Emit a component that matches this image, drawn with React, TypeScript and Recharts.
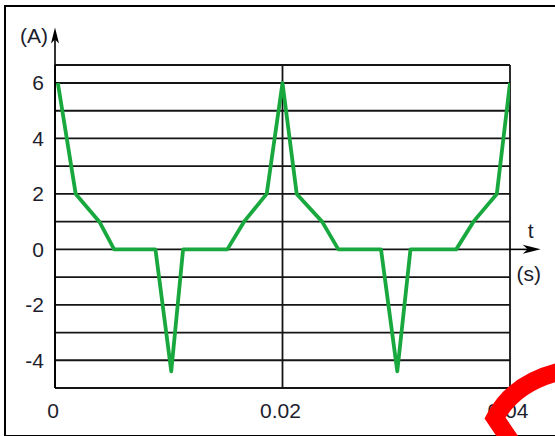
import React from 'react';
import { LineChart, Line, XAxis, YAxis, CartesianGrid, ReferenceLine } from 'recharts';

const times = [0.00025, 0.00182, 0.0039, 0.0052, 0.00883, 0.01022, 0.01126, 0.01515, 0.01662, 0.01861, 0.02,
  0.02125, 0.02348, 0.02491, 0.02866, 0.03009, 0.03125, 0.03527, 0.03679, 0.03884, 0.04];
const current = [6, 2, 1, 0, 0, -4.4, 0, 0, 1, 2, 6, 2, 1, 0, 0, -4.4, 0, 0, 1, 2, 6];
const xTicks = [0, 0.02, 0.04];
const xTickLabels = ['0', '0.02', '0.04'];
const yTicks = [-5, -4, -3, -2, -1, 0, 1, 2, 3, 4, 5, 6, 6.65];
const yDomain: [number, number] = [-5, 6.65];
const xDomain: [number, number] = [0, 0.04];
const yArrowEnd = 8;
const xArrowEnd = 0.0427;
const yUnit = '(A)';
const xName = 't';
const xUnit = '(s)';

const data = times.map((t, k) => ({ t, i: current[k] }));

const FONT = '"Liberation Sans", Arial, sans-serif';
const TXT = '#1d1d2e';

const YArrow = (p: any) => {
  const { x1, y1, x2, y2 } = p;
  return (
    <g>
      <line x1={x1} y1={y1} x2={x2} y2={y2 + 8} stroke="#000" strokeWidth={1.6} />
      <polygon points={`${x2},${y2} ${x2 - 4},${y2 + 16} ${x2},${y2 + 12} ${x2 + 4},${y2 + 16}`} fill="#000" />
      <text x={x2 - 7} y={y2 + 15} textAnchor="end" fontSize={21} fontFamily={FONT} fill={TXT}>{yUnit}</text>
    </g>
  );
};

const XArrow = (p: any) => {
  const { x1, y1, x2, y2 } = p;
  return (
    <g>
      <line x1={x1} y1={y1} x2={x2 - 8} y2={y2} stroke="#000" strokeWidth={1.6} />
      <polygon points={`${x2},${y2} ${x2 - 18},${y2 - 4.5} ${x2 - 13},${y2} ${x2 - 18},${y2 + 4.5}`} fill="#000" />
      <text x={x2 - 10} y={y2 - 11} textAnchor="middle" fontSize={21} fontFamily={FONT} fill={TXT}>{xName}</text>
      <text x={x2 - 12} y={y2 + 32} textAnchor="middle" fontSize={21} fontFamily={FONT} fill={TXT}>{xUnit}</text>
    </g>
  );
};

export default function App() {
  return (
    <div style={{ position: 'absolute', left: 0, top: 0, width: 555, height: 436, overflow: 'hidden', background: '#fff' }}>
      <div style={{ position: 'absolute', left: 4, top: 5, width: 560, height: 428, borderLeft: '2.5px solid #000', borderTop: '2.5px solid #000', borderBottom: '2.5px solid #000' }} />
      <div style={{ position: 'absolute', left: 0, top: 0 }}>
        <LineChart width={555} height={436} data={data} margin={{ top: 65, right: 45, bottom: 8, left: 15 }}>
          <CartesianGrid stroke="#151515" strokeWidth={1.8} />
          <XAxis
            dataKey="t"
            type="number"
            domain={xDomain}
            ticks={xTicks}
            allowDataOverflow
            interval={0}
            height={40}
            tickLine={false}
            tickMargin={9}
            axisLine={{ stroke: '#151515', strokeWidth: 1.8 }}
            tickFormatter={(v: number) => xTickLabels[xTicks.indexOf(v)] ?? ''}
            tick={{ fontSize: 21, fontFamily: FONT, fill: TXT, dx: -2 }}
          />
          <YAxis
            type="number"
            domain={yDomain}
            ticks={yTicks}
            allowDataOverflow
            interval={0}
            width={40}
            tickLine={false}
            tickMargin={5}
            axisLine={{ stroke: '#000', strokeWidth: 1.8 }}
            tickFormatter={(v: number) => (Number.isInteger(v) && v % 2 === 0 ? String(v) : '')}
            tick={{ fontSize: 21, fontFamily: FONT, fill: TXT }}
          />
          <ReferenceLine segment={[{ x: 0, y: yDomain[1] }, { x: 0, y: yArrowEnd }]} ifOverflow="visible" shape={YArrow} />
          <ReferenceLine segment={[{ x: xDomain[1], y: 0 }, { x: xArrowEnd, y: 0 }]} ifOverflow="visible" shape={XArrow} />
          <Line
            type="linear"
            dataKey="i"
            stroke="#19a83e"
            strokeWidth={3.8}
            strokeLinejoin="round"
            dot={false}
            isAnimationActive={false}
          />
        </LineChart>
      </div>
      <svg width={555} height={436} style={{ position: 'absolute', left: 0, top: 0, pointerEvents: 'none' }}>
        <path d="M 514 446 L 495 418 Q 514 382 562 371" fill="none" stroke="#ff0000" strokeWidth={18} strokeLinejoin="miter" />
      </svg>
    </div>
  );
}
